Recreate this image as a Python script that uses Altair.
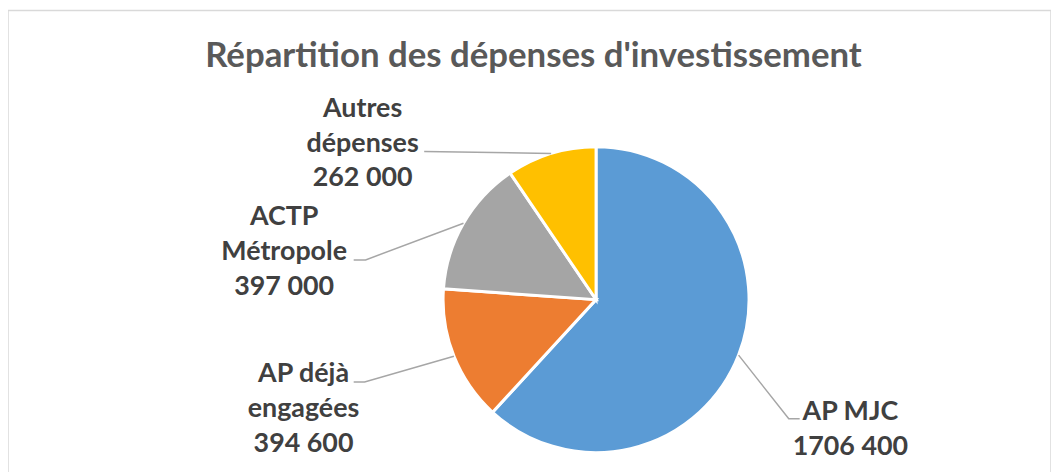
import math
import altair as alt
import pandas as pd

# ---------------- data ----------------
names = ["AP MJC", "AP déjà engagées", "ACTP Métropole", "Autres dépenses"]
values = [1706400, 394600, 397000, 262000]
value_labels = ["1706 400", "394 600", "397 000", "262 000"]
label_lines = [["AP MJC"], ["AP déjà", "engagées"], ["ACTP", "Métropole"], ["Autres", "dépenses"]]
colors = ["#5B9BD5", "#ED7D31", "#A5A5A5", "#FFC000"]
title = "Répartition des dépenses d'investissement"

# ---------------- layout (page pixels) ----------------
OX, OY = 8, 9
W, H = 1050, 470
CX, CY, R = 600, 300, 154
# leader line elbow / end points and label anchors (page pixels)
elbows = [(794, 420), (367, 383), (368, 260), (427, 151)]
ends = [(805, 420), (356, 383), (356, 260), (427, 151)]
label_pos = [(856, 421), (305.5, 383), (286, 225), (365, 116)]
TITLE_POS = (537, 66)


def px(x):
    return x - OX


def py(y):
    return y - OY


total = sum(values)
df = pd.DataFrame({"name": names, "value": values, "order": list(range(len(names)))})

# leader lines: rim point at each slice's mid angle, elbow, end
rows = []
cum = 0.0
for i, v in enumerate(values):
    mid = (cum + v / 2) / total * 2 * math.pi
    cum += v
    rim = (CX + R * math.sin(mid), CY - R * math.cos(mid))
    for k, (x, y) in enumerate([rim, elbows[i], ends[i]]):
        rows.append({"name": names[i], "pt": k, "x": px(x), "y": py(y)})
lines_df = pd.DataFrame(rows)

labels_df = pd.DataFrame({
    "name": names,
    "label": ["\n".join(label_lines[i] + [value_labels[i]]) for i in range(len(names))],
    "x": [px(p[0]) for p in label_pos],
    "y": [py(p[1]) for p in label_pos],
})

xs = alt.Scale(domain=[0, W], range=[0, W], nice=False, zero=False)
ys = alt.Scale(domain=[0, H], range=[0, H], nice=False, zero=False)

pie = alt.Chart(df).mark_arc(outerRadius=R, stroke="white", strokeWidth=3).encode(
    theta=alt.Theta("value:Q", stack=True),
    order=alt.Order("order:Q", sort="ascending"),
    color=alt.Color("name:N", scale=alt.Scale(domain=names, range=colors), legend=None),
    x=alt.value(px(CX)),
    y=alt.value(py(CY)),
)

leaders = alt.Chart(lines_df).mark_line(color="#A6A6A6", strokeWidth=1.5).encode(
    x=alt.X("x:Q", scale=xs, axis=None),
    y=alt.Y("y:Q", scale=ys, axis=None),
    detail="name:N",
    order="pt:Q",
)

labels = alt.Chart(labels_df).mark_text(
    font="Lato", fontWeight="bold", fontSize=27, color="#404040",
    align="center", baseline="alphabetic", lineBreak="\n", lineHeight=35,
).encode(
    x=alt.X("x:Q", scale=xs, axis=None),
    y=alt.Y("y:Q", scale=ys, axis=None),
    text="label:N",
)

title_layer = alt.Chart(pd.DataFrame({"t": [title]})).mark_text(
    font="Lato", fontWeight="bold", fontSize=35, color="#595959",
    align="center", baseline="alphabetic",
).encode(
    text="t:N",
    x=alt.value(px(TITLE_POS[0])),
    y=alt.value(py(TITLE_POS[1])),
)

chart = alt.layer(pie, leaders, labels, title_layer).properties(
    width=W, height=H,
    autosize=alt.AutoSizeParams(type="none"),
    padding={"left": 0, "top": 1, "right": 0, "bottom": 0},
).configure_view(stroke="#D9D9D9", strokeWidth=1.5)

chart.save("out.html", embed_options={"renderer": "svg", "actions": False})
